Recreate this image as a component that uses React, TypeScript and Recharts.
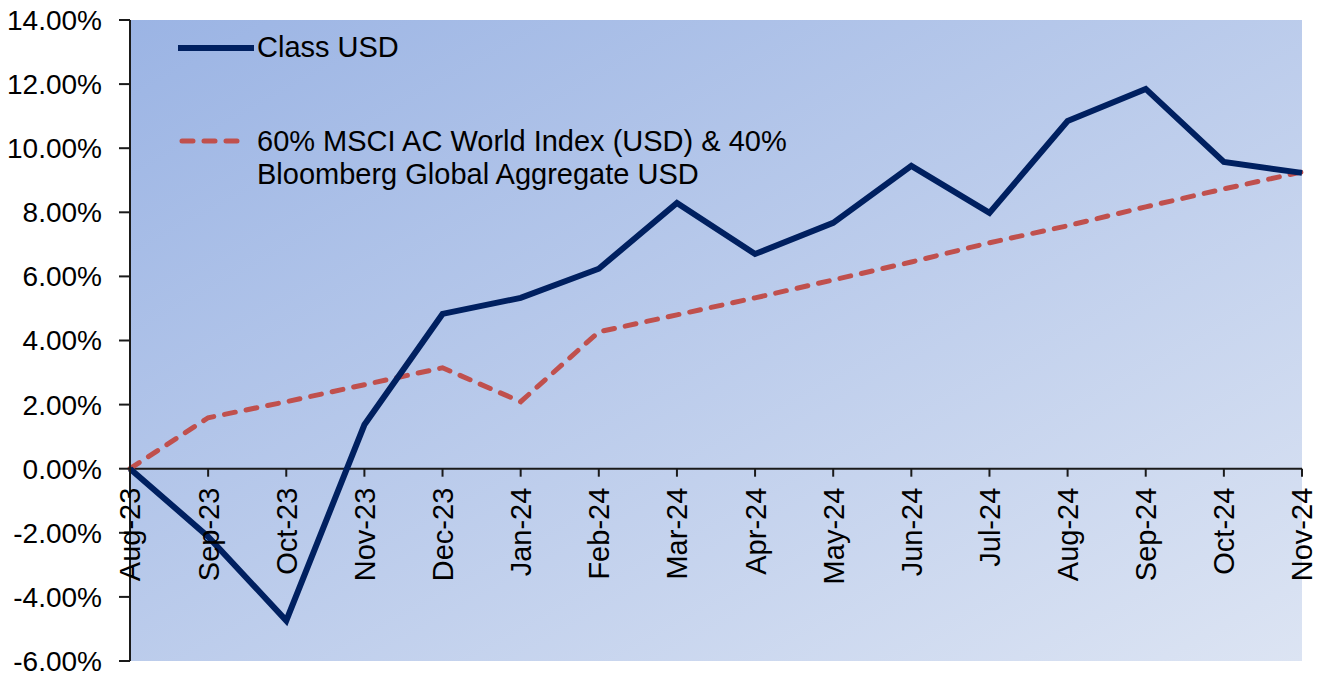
import {
  LineChart,
  Line,
  XAxis,
  YAxis,
  CartesianGrid,
  ReferenceLine,
} from "recharts";

// ===== data =====
const months = [
  "Aug-23", "Sep-23", "Oct-23", "Nov-23", "Dec-23", "Jan-24", "Feb-24", "Mar-24",
  "Apr-24", "May-24", "Jun-24", "Jul-24", "Aug-24", "Sep-24", "Oct-24", "Nov-24",
];
const classUsd = [
  0, -2.12, -4.74, 1.37, 4.83, 5.33, 6.24, 8.29,
  6.7, 7.67, 9.45, 7.98, 10.85, 11.85, 9.57, 9.23,
];
const benchmark = [
  0, 1.59, 2.09, 2.62, 3.15, 2.09, 4.27, 4.8,
  5.33, 5.89, 6.45, 7.05, 7.58, 8.17, 8.73, 9.26,
];
const yTicks = [-6, -4, -2, 0, 2, 4, 6, 8, 10, 12, 14];

const CLASS_NAME = "Class USD";
const BENCH_LINES = ["60% MSCI AC World Index (USD) & 40%", "Bloomberg Global Aggregate USD"];

// ===== layout =====
const W = 1325;
const H = 677;
const Y_AXIS_W = 130;
const X_AXIS_H = 1;
const M = { top: 20, right: 23, bottom: 15, left: 0 };
const Y_MIN = -6;
const Y_MAX = 14;
const FONT = "'Liberation Sans', Arial, sans-serif";
const FS = 28;
const FS_BIG = 29;
const NAVY = "#002060";
const RED = "#c0504d";
const AXIS = "#1a1a1a";

const data = months.map((m, i) => ({ m, a: classUsd[i], b: benchmark[i] }));

// x labels sit under the zero line, not under the plot
const plotH = H - M.top - M.bottom - X_AXIS_H;
const zeroY = M.top + ((Y_MAX - 0) / (Y_MAX - Y_MIN)) * plotH;

const MonthTick = (props: any) => {
  const { x, payload } = props;
  return (
    <g transform={`translate(${x},${zeroY})`}>
      <line x1={0} x2={0} y1={0} y2={8} stroke={AXIS} strokeWidth={2} />
      <text
        transform="rotate(-90)"
        x={-19}
        y={0}
        dy="0.36em"
        textAnchor="end"
        fontFamily={FONT}
        fontSize={FS_BIG}
        fill="#000"
      >
        {payload.value}
      </text>
    </g>
  );
};

const LegendBox = () => (
  <div
    style={{
      position: "absolute",
      left: 178,
      top: 31,
      fontFamily: FONT,
      fontSize: FS_BIG,
      color: "#000",
      lineHeight: "33px",
      pointerEvents: "none",
    }}
  >
    <div style={{ display: "flex", alignItems: "center" }}>
      <svg width={79} height={12}>
        <line x1={0} x2={76} y1={6} y2={6} stroke={NAVY} strokeWidth={6} />
      </svg>
      <span>{CLASS_NAME}</span>
    </div>
    <div style={{ display: "flex", alignItems: "flex-start", marginTop: 61 }}>
      <svg width={79} height={33} style={{ flex: "none" }}>
        <line
          x1={4}
          x2={66}
          y1={16}
          y2={16}
          stroke={RED}
          strokeWidth={5}
          strokeDasharray="11 11"
          strokeLinecap="round"
        />
      </svg>
      <div>
        {BENCH_LINES.map((t) => (
          <div key={t}>{t}</div>
        ))}
      </div>
    </div>
  </div>
);

export default function App() {
  return (
    <div style={{ position: "absolute", left: 0, top: 0, width: W, height: H, background: "#fff" }}>
      <LineChart width={W} height={H} data={data} margin={M}>
        <defs>
          <linearGradient id="bg" x1="0" y1="0" x2="1" y2="1">
            <stop offset="0%" stopColor="#9bb4e4" />
            <stop offset="100%" stopColor="#dce4f3" />
          </linearGradient>
        </defs>
        <CartesianGrid horizontal={false} vertical={false} fill="url(#bg)" stroke="none" />
        <XAxis
          dataKey="m"
          interval={0}
          axisLine={false}
          tickLine={false}
          tick={<MonthTick />}
          height={X_AXIS_H}
        />
        <YAxis
          domain={[Y_MIN, Y_MAX]}
          ticks={yTicks}
          interval={0}
          tickFormatter={(v: number) => `${v.toFixed(2)}%`}
          axisLine={{ stroke: AXIS, strokeWidth: 2 }}
          tickLine={{ stroke: AXIS, strokeWidth: 2 }}
          tickSize={11}
          tickMargin={17}
          tick={{ fill: "#000", fontSize: FS, fontFamily: FONT }}
          width={Y_AXIS_W}
        />
        <ReferenceLine y={0} stroke={AXIS} strokeWidth={2} />
        <Line
          dataKey="b"
          stroke={RED}
          strokeWidth={5}
          strokeDasharray="11 11"
          strokeLinecap="round"
          dot={false}
          isAnimationActive={false}
        />
        <Line
          dataKey="a"
          stroke={NAVY}
          strokeWidth={6}
          dot={false}
          isAnimationActive={false}
        />
      </LineChart>
      <LegendBox />
    </div>
  );
}
